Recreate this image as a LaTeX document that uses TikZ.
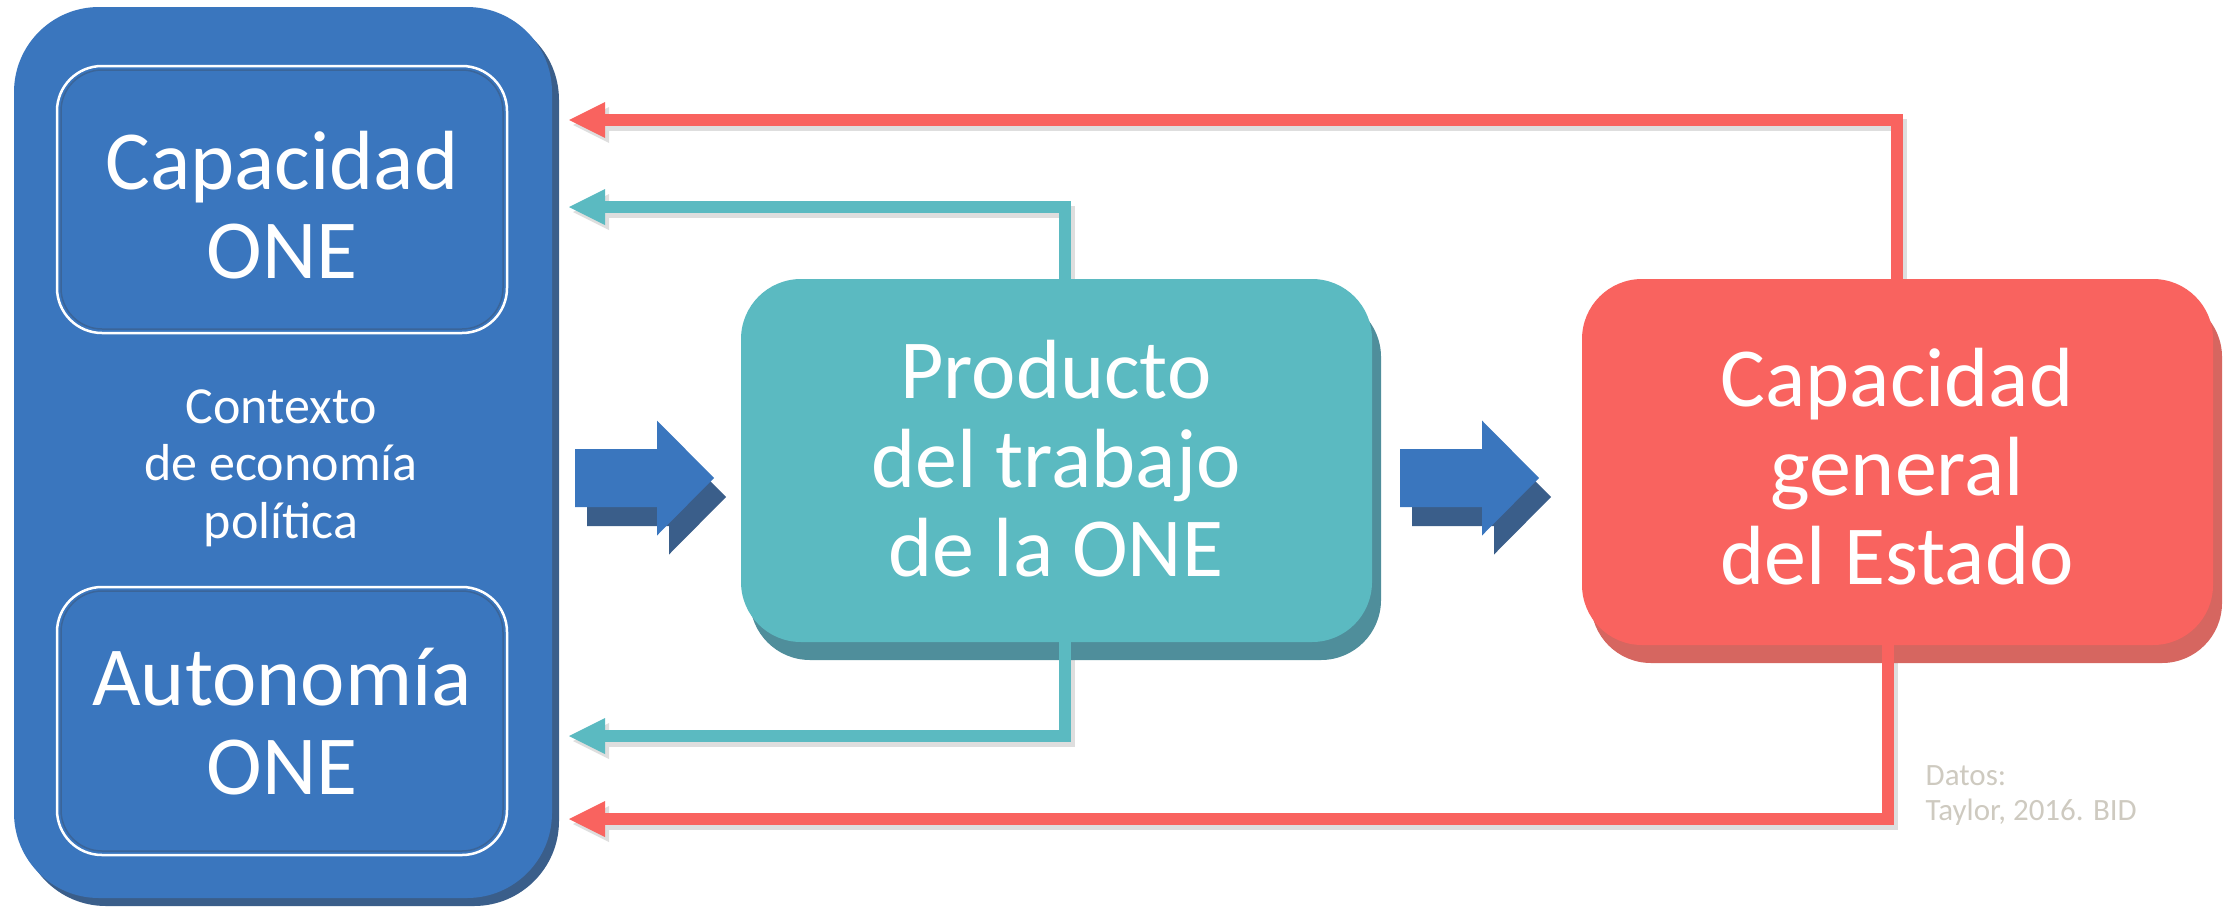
\documentclass[tikz,border=0pt]{standalone}
\usepackage{fontspec}
\setmainfont{Carlito}
\usetikzlibrary{arrows.meta,shadows}
\definecolor{cblue}{RGB}{58,118,190}
\definecolor{cblueshadow}{RGB}{58,94,138}
\definecolor{cteal}{RGB}{91,186,193}
\definecolor{ctealshadow}{RGB}{79,142,155}
\definecolor{cred}{RGB}{249,99,95}
\definecolor{credshadow}{RGB}{214,102,96}
\definecolor{cgrayshadow}{RGB}{222,222,222}
\definecolor{cnote}{RGB}{206,202,192}
\begin{document}
\begin{tikzpicture}[x=1pt,y=-1pt,
  panel/.style={draw=none,inner sep=0pt,outer sep=0pt},
  bigtext/.style={text=white,align=center,inner sep=0pt,font=\fontsize{84}{89}\selectfont},
  midtext/.style={text=white,align=center,inner sep=0pt,font=\fontsize{52}{57.5}\selectfont},
  conn/.style={line width=12pt,line join=miter,-{Triangle[length=36pt,width=36pt,line width=0pt]}},
  connshadow/.style={conn,cgrayshadow,transform canvas={xshift=4pt,yshift=-5pt}},
  barrow/.pic={
    \fill[cblueshadow] (12,-10) -- (94,-10) -- (94,-38.5) -- (151,19) -- (94,76.5) -- (94,48) -- (12,48) -- cycle;
    \fill[cblue] (0,-29) -- (82,-29) -- (82,-57.5) -- (139,0) -- (82,57.5) -- (82,29) -- (0,29) -- cycle;
  }
]
\useasboundingbox (0,0) rectangle (2229,908);

% tips of the feedback connectors
\coordinate (rtTip) at (569,120);
\coordinate (ttTip) at (569,207);
\coordinate (tbTip) at (569,736);
\coordinate (rbTip) at (569,819);

% node positions (for connectors)
\coordinate (prodC) at (1056.5,460.5);
\coordinate (redC) at (1897.5,462);

% connectors (drawn first, boxes cover their ends)
\draw[connshadow] (1897,279) |- (rtTip);
\draw[connshadow] (1065,279) |- (ttTip);
\draw[connshadow] (1065,640) |- (tbTip);
\draw[connshadow] (1888,645) |- (rbTip);

% left context panel
\node[panel,fill=cblue,minimum width=538pt,minimum height=891pt,rounded corners=85pt,
  drop shadow={shadow xshift=7pt,shadow yshift=-8pt,fill=cblueshadow,opacity=1}] (ctx) at (283,452.5) {};

\node[panel,fill=cblue,draw=white,line width=2.5pt,minimum width=450pt,minimum height=267pt,rounded corners=45pt] (cap) at (282,199.5) {};
\draw[cblueshadow,line width=1.5pt,opacity=0.7,rounded corners=41pt]
  ([xshift=4pt,yshift=-4pt]cap.north west) rectangle ([xshift=-4pt,yshift=4pt]cap.south east);
\node[panel,fill=cblue,draw=white,line width=2.5pt,minimum width=450pt,minimum height=268pt,rounded corners=45pt] (aut) at (282,721) {};
\draw[cblueshadow,line width=1.5pt,opacity=0.7,rounded corners=41pt]
  ([xshift=4pt,yshift=-4pt]aut.north west) rectangle ([xshift=-4pt,yshift=4pt]aut.south east);

\node[bigtext] (captxt) at (282,205) {Capacidad\\ONE};
\node[bigtext] (auttxt) at (282,721.5) {Autonomía\\ONE};
\node[midtext] (ctxtxt) at (281,468) {Contexto\\de economía\\política};

% product box
\node[panel,fill=cteal,minimum width=631pt,minimum height=363pt,rounded corners=60pt,
  drop shadow={shadow xshift=9pt,shadow yshift=-18pt,fill=ctealshadow,opacity=1}] (prod) at (prodC) {};
\node[bigtext] (prodtxt) at (1056,458.5) {Producto\\del trabajo\\de la ONE};

% state capacity box
\node[panel,fill=cred,minimum width=631pt,minimum height=366pt,rounded corners=60pt,
  drop shadow={shadow xshift=9pt,shadow yshift=-18pt,fill=credshadow,opacity=1}] (red) at (redC) {};
\node[bigtext] (redtxt) at (1897,467) {Capacidad\\general\\del Estado};

% coloured connectors
\draw[conn,cred] ([xshift=-0.5pt]red.north) |- (rtTip);
\draw[conn,cteal] ([xshift=8.5pt]prod.north) |- (ttTip);
\draw[conn,cteal] ([xshift=8.5pt]prod.south) |- (tbTip);
\draw[conn,cred] ([xshift=-9.5pt]red.south) |- (rbTip);

% block arrows
\pic (a1) at (575,478) {barrow};
\pic (a2) at (1400,478) {barrow};

% source note
\node[anchor=west,text=cnote,align=left,inner sep=0pt,font=\fontsize{31}{35}\selectfont] (datos) at (1925.5,795.5) {Datos:\\Taylor, 2016. BID};
\end{tikzpicture}
\end{document}
